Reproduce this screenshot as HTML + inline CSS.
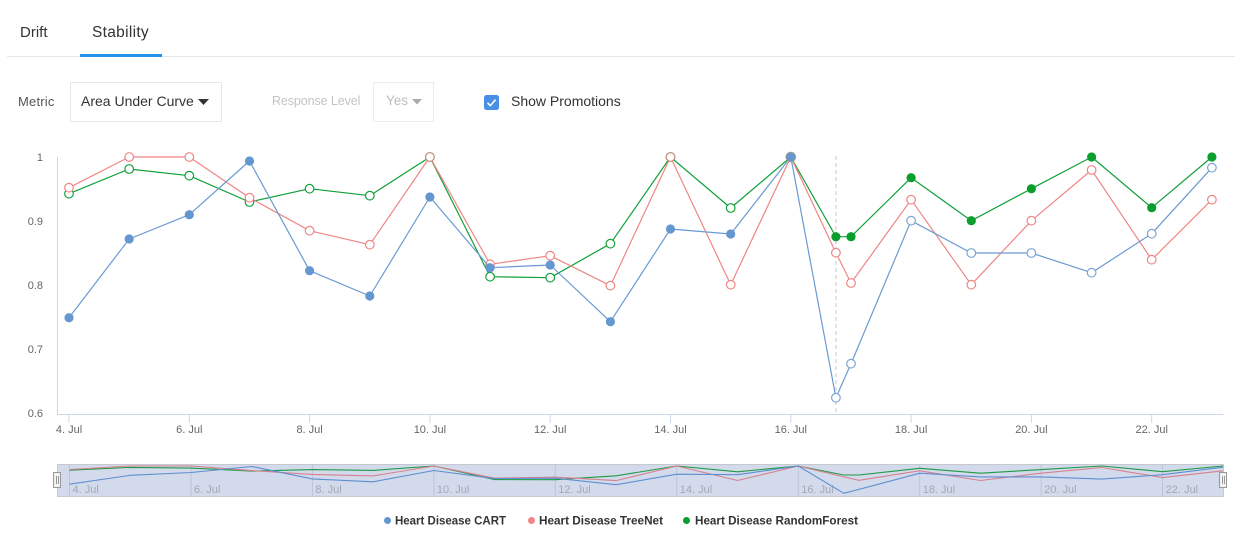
<!DOCTYPE html>
<html>
<head>
<meta charset="utf-8">
<style>
  html,body{margin:0;padding:0;background:#fff;}
  body{width:1242px;height:546px;position:relative;overflow:hidden;font-family:"Liberation Sans",sans-serif;}
  .abs{position:absolute;white-space:nowrap;}
</style>
</head>
<body>
<!-- Tabs -->
<div class="abs" style="left:20px;top:24px;font-size:15px;color:#333;">Drift</div>
<div class="abs" style="left:92px;top:24px;font-size:15.5px;color:#333;letter-spacing:0.3px;">Stability</div>
<div class="abs" style="left:7px;top:56px;width:1228px;height:1px;background:#e6e6e6;"></div>
<div class="abs" style="left:80px;top:54px;width:82px;height:3px;background:#2491ea;"></div>

<!-- Controls -->
<div class="abs" style="left:18px;top:94px;font-size:13px;color:#555;letter-spacing:0.2px;">Metric</div>
<div class="abs" style="left:70px;top:82px;width:150px;height:38px;border:1px solid #e6e6e6;"></div>
<div class="abs" style="left:81px;top:93px;font-size:14px;color:#333;">Area Under Curve</div>
<svg class="abs" style="left:197px;top:98px;" width="14" height="8"><polygon points="1,1 12,1 6.5,7" fill="#333"/></svg>

<div class="abs" style="left:272px;top:94px;font-size:12.5px;color:#c4c4c4;letter-spacing:-0.1px;">Response Level</div>
<div class="abs" style="left:373px;top:82px;width:59px;height:38px;border:1px solid #ececec;"></div>
<div class="abs" style="left:386px;top:93px;font-size:13.5px;color:#bdbdbd;">Yes</div>
<svg class="abs" style="left:410px;top:98px;" width="14" height="8"><polygon points="2,1 12,1 7,6.5" fill="#aaa"/></svg>

<svg class="abs" style="left:484px;top:95px;" width="16" height="16">
  <rect x="0" y="0" width="15" height="15" rx="2.5" fill="#4a8fe7"/>
  <polyline points="3.5,7.8 6.3,10.6 11.6,4.6" fill="none" stroke="#fff" stroke-width="1.6"/>
</svg>
<div class="abs" style="left:511px;top:93px;font-size:14px;color:#333;">Show Promotions</div>

<!-- Chart -->
<svg class="abs" style="left:0;top:0;" width="1242" height="546" font-family="Liberation Sans, sans-serif">
  <!-- y labels -->
  <g font-size="11" fill="#666" text-anchor="end">
    <text x="43" y="161">1</text>
    <text x="43" y="225">0.9</text>
    <text x="43" y="289">0.8</text>
    <text x="43" y="353">0.7</text>
    <text x="43" y="417">0.6</text>
  </g>
  <!-- axes -->
  <line x1="57.5" y1="157" x2="57.5" y2="414" stroke="#ccd6eb" stroke-width="1"/>
  <line x1="57" y1="414.5" x2="1223.5" y2="414.5" stroke="#ccd6eb" stroke-width="1"/>
  <g stroke="#ccd6eb" stroke-width="1">
    <line x1="69" y1="414" x2="69" y2="423"/>
    <line x1="189.3" y1="414" x2="189.3" y2="423"/>
    <line x1="309.6" y1="414" x2="309.6" y2="423"/>
    <line x1="429.9" y1="414" x2="429.9" y2="423"/>
    <line x1="550.2" y1="414" x2="550.2" y2="423"/>
    <line x1="670.5" y1="414" x2="670.5" y2="423"/>
    <line x1="790.8" y1="414" x2="790.8" y2="423"/>
    <line x1="911.1" y1="414" x2="911.1" y2="423"/>
    <line x1="1031.4" y1="414" x2="1031.4" y2="423"/>
    <line x1="1151.7" y1="414" x2="1151.7" y2="423"/>
  </g>
  <g font-size="11" fill="#666" text-anchor="middle">
    <text x="69" y="433">4. Jul</text>
    <text x="189.3" y="433">6. Jul</text>
    <text x="309.6" y="433">8. Jul</text>
    <text x="429.9" y="433">10. Jul</text>
    <text x="550.2" y="433">12. Jul</text>
    <text x="670.5" y="433">14. Jul</text>
    <text x="790.8" y="433">16. Jul</text>
    <text x="911.1" y="433">18. Jul</text>
    <text x="1031.4" y="433">20. Jul</text>
    <text x="1151.7" y="433">22. Jul</text>
  </g>
  <!-- promotion dashed line -->
  <line x1="835.9" y1="156" x2="835.9" y2="414" stroke="#c8c8c8" stroke-width="1" stroke-dasharray="4,3"/>

  <!-- Green series -->
  <polyline fill="none" stroke="#12a03a" stroke-width="1.2" stroke-linejoin="round"
    points="69,193.7 129.2,169 189.3,175.7 249.5,202 309.6,188.7 369.8,195.7 429.9,157 490.1,276.7 550.2,277.7 610.4,243.7 670.5,157 730.7,208 790.8,157 835.9,236.7 851,236.7 911.1,177.7 971.3,220.7 1031.4,188.7 1091.6,157 1151.7,207.7 1211.9,157"/>
  <g fill="#fff" stroke="#12a03a" stroke-width="1.2">
    <circle cx="69" cy="193.7" r="4.3"/><circle cx="129.2" cy="169" r="4.3"/><circle cx="189.3" cy="175.7" r="4.3"/>
    <circle cx="249.5" cy="202" r="4.3"/><circle cx="309.6" cy="188.7" r="4.3"/><circle cx="369.8" cy="195.7" r="4.3"/>
    <circle cx="429.9" cy="157" r="4.3"/><circle cx="490.1" cy="276.7" r="4.3"/><circle cx="550.2" cy="277.7" r="4.3"/>
    <circle cx="610.4" cy="243.7" r="4.3"/><circle cx="670.5" cy="157" r="4.3"/><circle cx="730.7" cy="208" r="4.3"/>
    <circle cx="790.8" cy="157" r="4.3"/>
  </g>
  <g fill="#0a9e2c">
    <circle cx="835.9" cy="236.7" r="4.6"/><circle cx="851" cy="236.7" r="4.6"/><circle cx="911.1" cy="177.7" r="4.6"/>
    <circle cx="971.3" cy="220.7" r="4.6"/><circle cx="1031.4" cy="188.7" r="4.6"/><circle cx="1091.6" cy="157" r="4.6"/>
    <circle cx="1151.7" cy="207.7" r="4.6"/><circle cx="1211.9" cy="157" r="4.6"/>
  </g>

  <!-- Red series -->
  <polyline fill="none" stroke="#ef8585" stroke-width="1.2" stroke-linejoin="round"
    points="69,187.7 129.2,157 189.3,157 249.5,197.7 309.6,230.7 369.8,244.7 429.9,157 490.1,264.3 550.2,255.7 610.4,285.7 670.5,157 730.7,284.7 790.8,157 835.9,252.7 851,283 911.1,199.7 971.3,284.7 1031.4,220.7 1091.6,170 1151.7,259.7 1211.9,199.7"/>
  <g fill="#fff" stroke="#ef8585" stroke-width="1.2">
    <circle cx="69" cy="187.7" r="4.3"/><circle cx="129.2" cy="157" r="4.3"/><circle cx="189.3" cy="157" r="4.3"/>
    <circle cx="249.5" cy="197.7" r="4.3"/><circle cx="309.6" cy="230.7" r="4.3"/><circle cx="369.8" cy="244.7" r="4.3"/>
    <circle cx="429.9" cy="157" r="4.3" stroke="#c99080"/><circle cx="490.1" cy="264.3" r="4.3"/><circle cx="550.2" cy="255.7" r="4.3"/>
    <circle cx="610.4" cy="285.7" r="4.3"/><circle cx="670.5" cy="157" r="4.3" stroke="#c99080"/><circle cx="730.7" cy="284.7" r="4.3"/>
    <circle cx="835.9" cy="252.7" r="4.3"/><circle cx="851" cy="283" r="4.3"/><circle cx="911.1" cy="199.7" r="4.3"/>
    <circle cx="971.3" cy="284.7" r="4.3"/><circle cx="1031.4" cy="220.7" r="4.3"/><circle cx="1091.6" cy="170" r="4.3"/>
    <circle cx="1151.7" cy="259.7" r="4.3"/><circle cx="1211.9" cy="199.7" r="4.3"/>
  </g>

  <!-- Blue series -->
  <polyline fill="none" stroke="#6a9ad2" stroke-width="1.2" stroke-linejoin="round"
    points="69,317.7 129.2,239 189.3,214.7 249.5,161 309.6,270.7 369.8,296 429.9,197 490.1,267.7 550.2,265 610.4,321.7 670.5,229 730.7,234 790.8,157 835.9,397.7 851,363.7 911.1,220.7 971.3,253 1031.4,253 1091.6,272.7 1151.7,233.7 1211.9,167.7"/>
  <g fill="#6497cf">
    <circle cx="69" cy="317.7" r="4.6"/><circle cx="129.2" cy="239" r="4.6"/><circle cx="189.3" cy="214.7" r="4.6"/>
    <circle cx="249.5" cy="161" r="4.6"/><circle cx="309.6" cy="270.7" r="4.6"/><circle cx="369.8" cy="296" r="4.6"/>
    <circle cx="429.9" cy="197" r="4.6"/><circle cx="490.1" cy="267.7" r="4.6"/><circle cx="550.2" cy="265" r="4.6"/>
    <circle cx="610.4" cy="321.7" r="4.6"/><circle cx="670.5" cy="229" r="4.6"/><circle cx="730.7" cy="234" r="4.6"/>
    <circle cx="790.8" cy="157" r="4.9" stroke="#b09a88" stroke-width="0.8"/>
  </g>
  <g fill="#fff" stroke="#7ba5d6" stroke-width="1.2">
    <circle cx="835.9" cy="397.7" r="4.3"/><circle cx="851" cy="363.7" r="4.3"/><circle cx="911.1" cy="220.7" r="4.3"/>
    <circle cx="971.3" cy="253" r="4.3"/><circle cx="1031.4" cy="253" r="4.3"/><circle cx="1091.6" cy="272.7" r="4.3"/>
    <circle cx="1151.7" cy="233.7" r="4.3"/><circle cx="1211.9" cy="167.7" r="4.3"/>
  </g>

  <!-- Navigator -->
  <rect x="57.5" y="464.5" width="1166" height="32" fill="#d2daec" stroke="#c6c9d0" stroke-width="1"/>
  <g stroke="#bcc5d9" stroke-width="1">
    <line x1="69.5" y1="465" x2="69.5" y2="496"/>
    <line x1="191" y1="465" x2="191" y2="496"/>
    <line x1="312.4" y1="465" x2="312.4" y2="496"/>
    <line x1="433.9" y1="465" x2="433.9" y2="496"/>
    <line x1="555.3" y1="465" x2="555.3" y2="496"/>
    <line x1="676.8" y1="465" x2="676.8" y2="496"/>
    <line x1="798.3" y1="465" x2="798.3" y2="496"/>
    <line x1="919.7" y1="465" x2="919.7" y2="496"/>
    <line x1="1041.2" y1="465" x2="1041.2" y2="496"/>
    <line x1="1162.6" y1="465" x2="1162.6" y2="496"/>
  </g>
  <g font-size="11" fill="#a3a8b4">
    <text x="72.5" y="493">4. Jul</text>
    <text x="194" y="493">6. Jul</text>
    <text x="315.4" y="493">8. Jul</text>
    <text x="436.9" y="493">10. Jul</text>
    <text x="558.3" y="493">12. Jul</text>
    <text x="679.8" y="493">14. Jul</text>
    <text x="801.3" y="493">16. Jul</text>
    <text x="922.7" y="493">18. Jul</text>
    <text x="1044.2" y="493">20. Jul</text>
    <text x="1165.6" y="493">22. Jul</text>
  </g>
  <polyline fill="none" stroke="#1f9a45" stroke-width="1.1" stroke-linejoin="round"
    points="69.5,470.2 130.2,467.4 191,468.1 251.7,471.1 312.4,469.6 373.2,470.4 433.9,466 494.6,479.6 555.3,479.7 616.1,475.8 676.8,466 737.5,471.8 798.3,466 843.8,475 859,475 919.7,468.3 980.4,473.2 1041.2,469.6 1101.9,466 1162.6,471.7 1223,466"/>
  <polyline fill="none" stroke="#d7808e" stroke-width="1.1" stroke-linejoin="round"
    points="69.5,469.5 130.2,466 191,466 251.7,470.6 312.4,474.4 373.2,475.9 433.9,466 494.6,478.2 555.3,477.2 616.1,480.6 676.8,466 737.5,480.5 798.3,466 843.8,476.9 859,480.3 919.7,470.8 980.4,480.5 1041.2,473.2 1101.9,467.5 1162.6,477.6 1223,470.8"/>
  <polyline fill="none" stroke="#5f8fd0" stroke-width="1.1" stroke-linejoin="round"
    points="69.5,484.2 130.2,475.3 191,472.5 251.7,466.5 312.4,478.9 373.2,481.8 433.9,470.5 494.6,478.6 555.3,478.2 616.1,484.7 676.8,474.2 737.5,474.7 798.3,466 843.8,493.3 859,489.4 919.7,473.2 980.4,476.9 1041.2,476.9 1101.9,479.1 1162.6,474.7 1223,467.2"/>
  <!-- handles -->
  <g>
    <rect x="53.5" y="472.5" width="7" height="15" fill="#f2f2f2" stroke="#999" stroke-width="1"/>
    <line x1="56.5" y1="476" x2="56.5" y2="484" stroke="#999" stroke-width="1"/>
    <line x1="58.5" y1="476" x2="58.5" y2="484" stroke="#999" stroke-width="1"/>
    <rect x="1219.5" y="472.5" width="7" height="15" fill="#f2f2f2" stroke="#999" stroke-width="1"/>
    <line x1="1222.5" y1="476" x2="1222.5" y2="484" stroke="#999" stroke-width="1"/>
    <line x1="1224.5" y1="476" x2="1224.5" y2="484" stroke="#999" stroke-width="1"/>
  </g>

  <!-- Legend -->
  <g font-size="12" font-weight="bold" fill="#333">
    <circle cx="387.5" cy="520.5" r="3.5" fill="#6497cf"/>
    <text x="395" y="524.5" textLength="111" lengthAdjust="spacingAndGlyphs">Heart Disease CART</text>
    <circle cx="531.5" cy="520.5" r="3.5" fill="#ef8585"/>
    <text x="539" y="524.5" textLength="124" lengthAdjust="spacingAndGlyphs">Heart Disease TreeNet</text>
    <circle cx="686.5" cy="520.5" r="3.5" fill="#0a9e2c"/>
    <text x="695" y="524.5" textLength="163" lengthAdjust="spacingAndGlyphs">Heart Disease RandomForest</text>
  </g>
</svg>
</body>
</html>
